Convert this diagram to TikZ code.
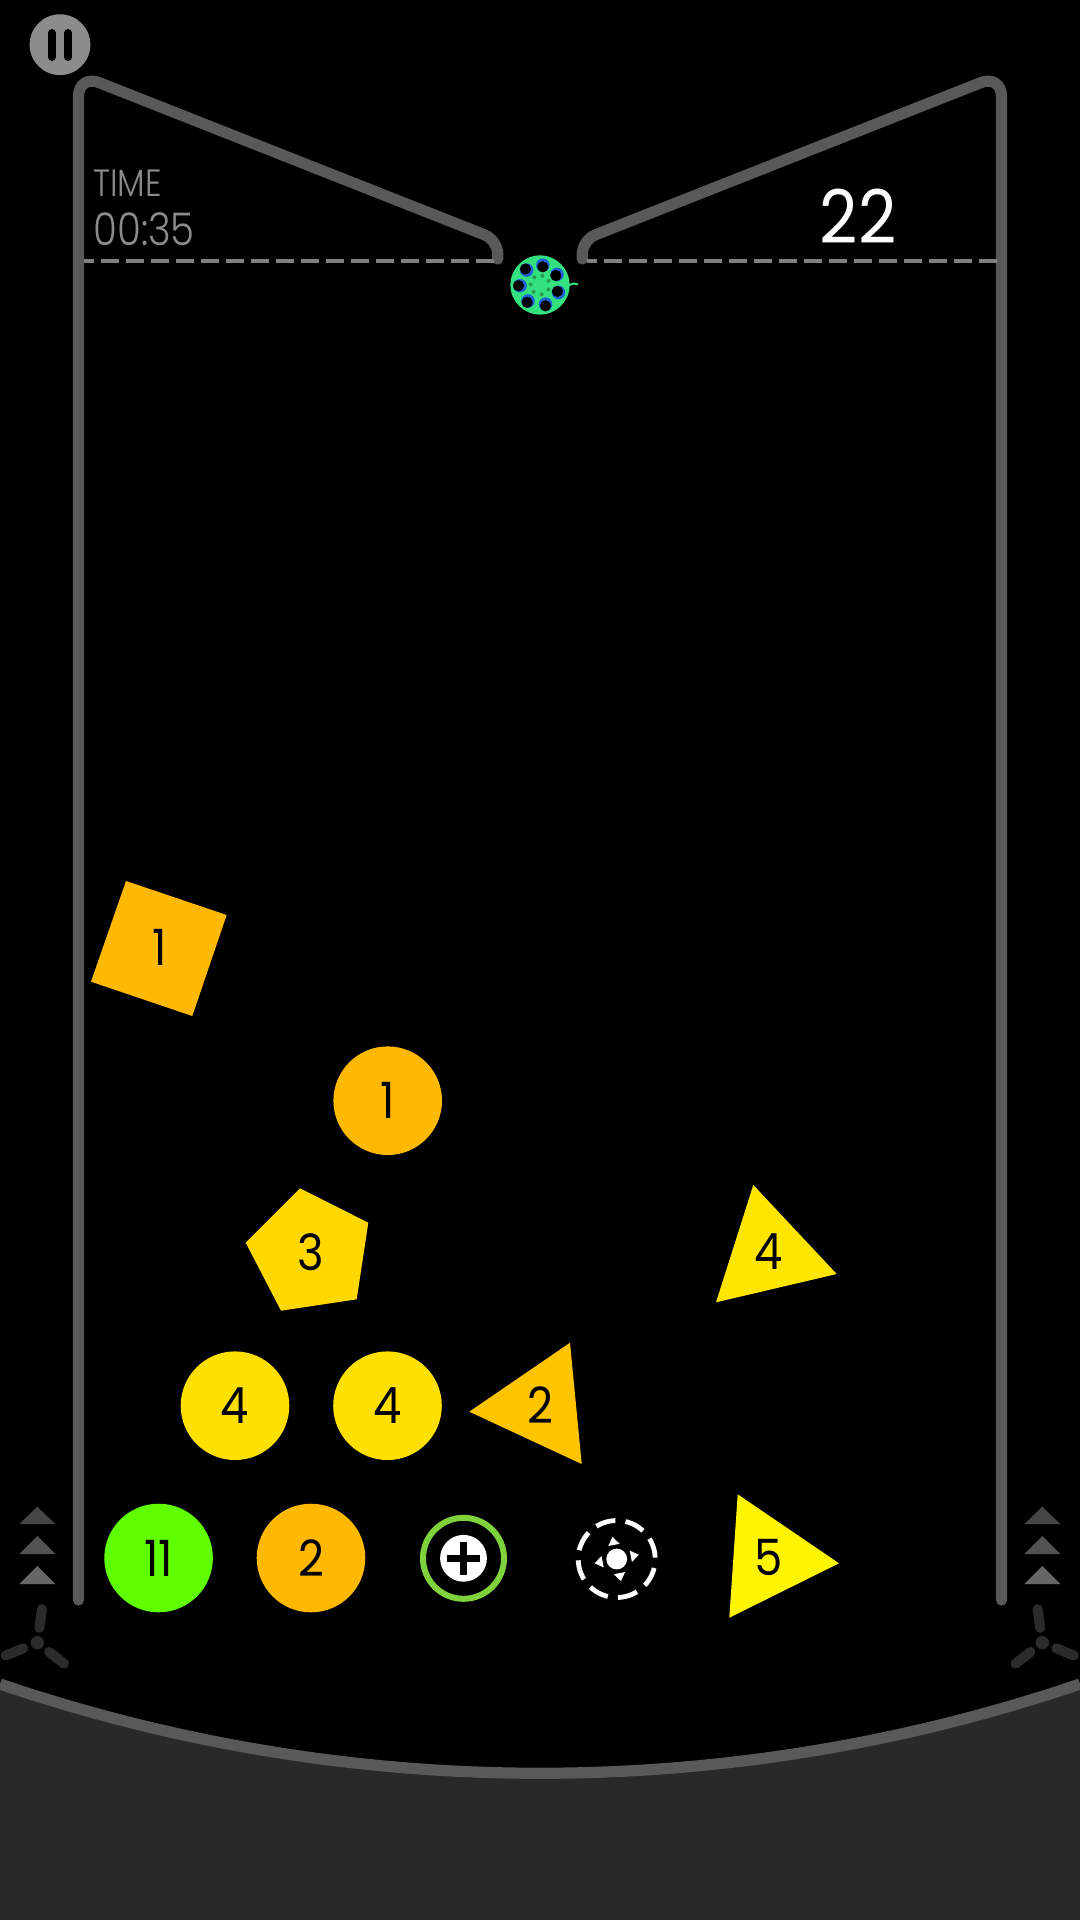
\documentclass[tikz,border=0pt]{standalone}
\usepackage{fontspec}
\setmainfont{Poppins}[FakeStretch=0.9]
\newfontfamily\thinfont{Poppins Light}[FakeStretch=0.86]
\usetikzlibrary{calc}
\definecolor{wallgray}{HTML}{595959}
\definecolor{dashgray}{HTML}{808080}
\definecolor{labelgray}{HTML}{8C8C8C}
\definecolor{floorgray}{HTML}{292929}
\definecolor{fangray}{HTML}{2B2B2B}
\definecolor{amber}{HTML}{FFB900}
\definecolor{pentayellow}{HTML}{FFD800}
\definecolor{fouryellow}{HTML}{FFE000}
\definecolor{triyellow}{HTML}{FFE600}
\definecolor{twoyellow}{HTML}{FFC400}
\definecolor{fiveyellow}{HTML}{FFF500}
\definecolor{elevengreen}{HTML}{5FFF00}
\definecolor{ballgreen}{HTML}{33E27F}
\definecolor{balldot}{HTML}{2A9A55}
\definecolor{ballblue}{HTML}{1F62D8}
\definecolor{ringgreen}{HTML}{7FD23C}
\tikzset{
  wall/.style={draw=wallgray,line width=5.6pt,line cap=round},
  limit/.style={draw=dashgray,line width=1.7pt,dash pattern=on 8.75pt off 3.75pt},
  num/.style={text=black,inner sep=0pt,font=\fontsize{25}{25}\selectfont},
  disc/.style={circle,minimum size=54.3pt,inner sep=0pt,text=black,font=\fontsize{25}{25}\selectfont},
  blade/.style={draw=fangray,line width=5pt,line cap=round},
}
\begin{document}
\begin{tikzpicture}[x=0.5pt,y=-0.5pt]
  \useasboundingbox (0,0) rectangle (1080,1920);
  \fill[black] (0,0) rectangle (1080,1920);
  \fill[floorgray] (0,1684) .. controls (350,1803) and (730,1803) .. (1080,1684) -- (1080,1920) -- (0,1920) -- cycle;
  \draw[wall,line cap=butt] (0,1684) .. controls (350,1803) and (730,1803) .. (1080,1684);

  \draw[wall] (78.5,1600) [rounded corners=11pt] -- (78.5,74.5) [rounded corners=7pt] -- (497.7,240) [sharp corners] -- (497.7,259);
  \draw[wall] (1001.5,1600) [rounded corners=11pt] -- (1001.5,74.5) [rounded corners=7pt] -- (582.3,240) [sharp corners] -- (582.3,259);
  \coordinate (limitL) at (84,261);
  \coordinate (limitLend) at (494,261);
  \coordinate (limitR) at (996.7,261);
  \coordinate (limitRend) at (587,261);
  \draw[limit,dash phase=4pt] (limitL) -- (limitLend);
  \draw[limit] (limitR) -- (limitRend);

  \node[circle,fill=labelgray,minimum size=30.4pt,inner sep=0pt] (pause) at (60,44.7) {};
  \draw[black,line width=4pt,line cap=round] (51.7,33) -- (51.7,57) (68.2,33) -- (68.2,57);
  \node[anchor=base west,inner sep=0pt,text=labelgray,font=\thinfont\fontsize{19}{19}\selectfont] (timelabel) at (93,196.7) {TIME};
  \node[anchor=base west,inner sep=0pt,text=labelgray,font=\thinfont\fontsize{22.5}{22.5}\selectfont] (timevalue) at (93,246) {00:35};
  \node[anchor=base,inner sep=0pt,text=white,font=\fontsize{37}{37}\selectfont] (score) at (858,243.3) {22};

  \node[circle,fill=ballgreen,minimum size=29.6pt,inner sep=0pt] (ball) at (540,285) {};
  \foreach \a/\b in {-82/90,-32/135,22/225,74/90,127/120,178/180,228/225} {
    \fill[ballblue] ($(ball)+(\a:20)$) circle[radius=6.8];
    \fill[black] ($(ball)+(\a:20)+(\b:1.6)$) circle[radius=5.6];
    \fill[balldot] ($(ball)+(\a+6:9.5)$) circle[radius=2];
  }
  \draw[ballgreen,line width=1pt] (569,285) -- (574,283.5) -- (578,284.5);

  \fill[amber] (126,881) -- (226.7,915) -- (192.3,1016) -- (91,981.7) -- cycle;
  \node[num] (squareone) at (160,947) {1};
  \node[disc,fill=amber] (circleone) at (387.7,1100.7) {1};
  \fill[pentayellow] (300,1188.3) -- (368.3,1222.7) -- (356.7,1299.3) -- (281,1310.7) -- (245.7,1242.7) -- cycle;
  \node[num] (pentathree) at (310.7,1252) {3};
  \fill[triyellow] (753.3,1185) -- (836.7,1274) -- (716,1302.3) -- cycle;
  \node[num] (trifour) at (768.3,1252) {4};
  \node[disc,fill=fouryellow] (circlefourA) at (235,1405.7) {4};
  \node[disc,fill=fouryellow] (circlefourB) at (387.5,1405.7) {4};
  \fill[twoyellow] (469.3,1411.7) -- (570,1342.7) -- (581.7,1464) -- cycle;
  \node[num] (tritwo) at (540,1405) {2};
  \fill[fiveyellow] (737.7,1494.3) -- (839,1563.3) -- (729.3,1617.7) -- cycle;
  \node[num] (trifive) at (768.3,1557) {5};
  \node[disc,fill=elevengreen] (circleeleven) at (158.6,1558) {11};
  \node[disc,fill=amber] (circletwo) at (311,1558) {2};

  \node[circle,draw=ringgreen,line width=3pt,minimum size=40.5pt,inner sep=0pt] (plusring) at (463.5,1558.3) {};
  \node[circle,fill=white,minimum size=23.4pt,inner sep=0pt] (plus) at (463.5,1558.3) {};
  \draw[black,line width=3.5pt] (447,1558.3) -- (480,1558.3) (463.5,1541.8) -- (463.5,1574.8);

  \node[circle,draw=white,line width=2.4pt,minimum size=38.5pt,inner sep=0pt,dash pattern=on 10pt off 5.1pt,dash phase=14.4pt] (target) at (616.7,1559) {};
  \node[circle,fill=white,minimum size=10.4pt,inner sep=0pt] (targethub) at (616.7,1559) {};
  \foreach \a in {-101,-11,79,169} {
    \fill[white] ($(target.center)+(\a:22.5)$) -- ($(target.center)+(\a+22:15.5)$) -- ($(target.center)+(\a-22:15.5)$) -- cycle;
  }

  \foreach \x in {37.3,1042.3} {
    \fill[black!73] (\x,1506.7) -- (\x+18,1524) -- (\x-18,1524) -- cycle;
    \fill[black!68] (\x,1536) -- (\x+18,1554) -- (\x-18,1554) -- cycle;
    \fill[black!60] (\x,1566) -- (\x+18,1584) -- (\x-18,1584) -- cycle;
  }
  \node[circle,fill=fangray,minimum size=6.7pt,inner sep=0pt] (fanleft) at (37.3,1642.7) {};
  \node[circle,fill=fangray,minimum size=6.7pt,inner sep=0pt] (fanright) at (1042.3,1642.7) {};
  \foreach \a in {-82,38,158} {
    \draw[blade] ($(fanleft.center)+(\a:15)$) -- ($(fanleft.center)+(\a:34)$);
    \draw[blade] ($(fanright.center)+(\a-16:15)$) -- ($(fanright.center)+(\a-16:34)$);
  }
\end{tikzpicture}
\end{document}
